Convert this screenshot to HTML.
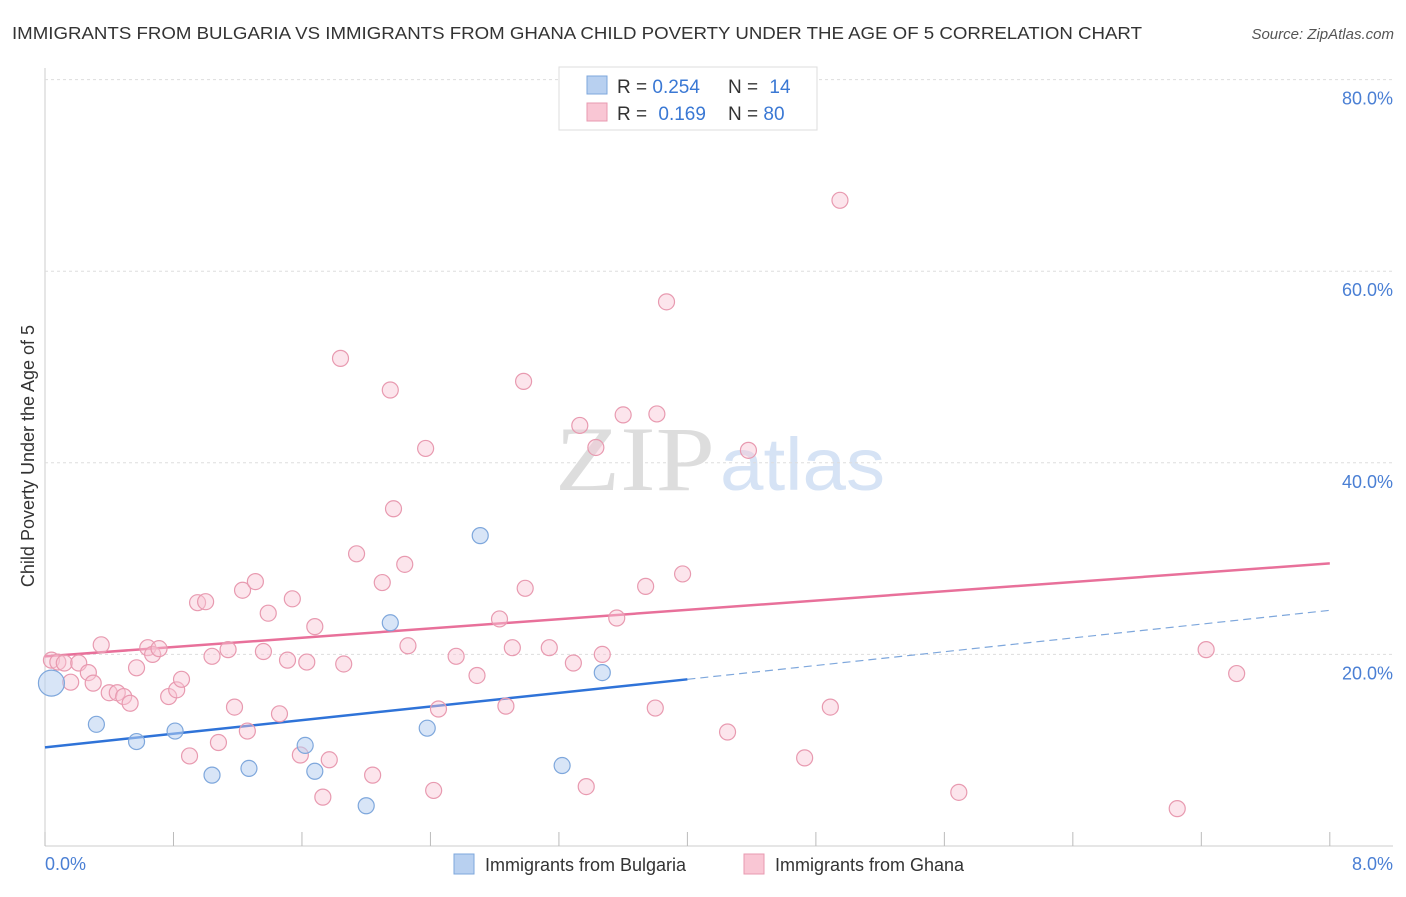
<!DOCTYPE html>
<html><head><meta charset="utf-8"><style>
body{margin:0;background:#fff;font-family:"Liberation Sans",sans-serif;}
</style></head><body>
<svg id="chart" width="1406" height="892" xmlns="http://www.w3.org/2000/svg">
<text x="12" y="39" font-size="17.5" fill="#333" textLength="1130" lengthAdjust="spacingAndGlyphs">IMMIGRANTS FROM BULGARIA VS IMMIGRANTS FROM GHANA CHILD POVERTY UNDER THE AGE OF 5 CORRELATION CHART</text>
<text x="1394" y="39" font-size="15" fill="#555" font-style="italic" text-anchor="end">Source: ZipAtlas.com</text>
<text x="555" y="490" font-size="92" fill="#ddd" font-family="Liberation Serif" textLength="160" lengthAdjust="spacingAndGlyphs">ZIP</text>
<text x="720" y="490" font-size="74" fill="#d6e3f5" textLength="165" lengthAdjust="spacingAndGlyphs">atlas</text>
<g id="grid"></g><g id="ticks"></g><g id="lines"></g><g id="pts"></g>
<text transform="translate(34,456) rotate(-90)" font-size="18" fill="#333" text-anchor="middle">Child Poverty Under the Age of 5</text>
<text x="45" y="870" font-size="18" fill="#4a7fd4">0.0%</text>
<text x="1393" y="870" font-size="18" fill="#4a7fd4" text-anchor="end">8.0%</text>
<g>
<rect x="559" y="67" width="258" height="63" fill="#fff" stroke="#ddd"/>
<rect x="587" y="76" width="20" height="18" fill="#b8d0f0" stroke="#7ea7dc"/>
<rect x="587" y="103" width="20" height="18" fill="#f9c6d4" stroke="#e89ab0"/>
<text x="617" y="93" font-size="19" fill="#333">R = <tspan fill="#3a78d4">0.254</tspan></text>
<text x="728" y="93" font-size="19" fill="#333">N = <tspan fill="#3a78d4" dx="6">14</tspan></text>
<text x="617" y="120" font-size="19" fill="#333">R = <tspan fill="#3a78d4" dx="6">0.169</tspan></text>
<text x="728" y="120" font-size="19" fill="#333">N = <tspan fill="#3a78d4">80</tspan></text>
</g>
<g><rect x="454" y="854" width="20" height="20" fill="#b8d0f0" stroke="#7ea7dc"/><text x="485" y="871" font-size="18" fill="#333">Immigrants from Bulgaria</text></g>
<g><rect x="744" y="854" width="20" height="20" fill="#f9c6d4" stroke="#e89ab0"/><text x="775" y="871" font-size="18" fill="#333">Immigrants from Ghana</text></g>
</svg>
<script>
const yTicks=[20,40,60,80];
const xTicks=[0,0.8,1.6,2.4,3.2,4.0,4.8,5.6,6.4,7.2,8.0];
const bulX=[0.04,0.32,0.57,0.81,1.04,1.27,1.62,1.68,2.00,2.15,2.38,2.71,3.22,3.47];
const bulY=[17.0,12.7,10.9,12.0,7.4,8.1,10.5,7.8,4.2,23.3,12.3,32.4,8.4,18.1];
const bulR=[13,8,8,8,8,8,8,8,8,8,8,8,8,8];
const ghaX=[0.04,0.08,0.12,0.16,0.21,0.27,0.30,0.35,0.40,0.45,0.49,0.53,0.57,0.64,0.67,0.71,0.77,0.82,0.85,0.90,0.95,1.00,1.04,1.08,1.14,1.18,1.23,1.26,1.31,1.36,1.39,1.46,1.51,1.54,1.59,1.63,1.68,1.77,1.73,1.84,1.86,1.94,2.04,2.10,2.15,2.17,2.24,2.26,2.37,2.42,2.45,2.56,2.69,2.83,2.87,2.91,2.98,2.99,3.14,3.29,3.33,3.37,3.43,3.47,3.56,3.60,3.74,3.80,3.81,3.87,3.97,4.25,4.38,4.73,4.89,4.95,5.69,7.05,7.23,7.42];
const ghaY=[19.4,19.2,19.1,17.1,19.1,18.1,17.0,21.0,16.0,16.0,15.6,14.9,18.6,20.7,20.0,20.6,15.6,16.3,17.4,9.4,25.4,25.5,19.8,10.8,20.5,14.5,26.7,12.0,27.6,20.3,24.3,13.8,19.4,25.8,9.5,19.2,22.9,9.0,5.1,50.9,19.0,30.5,7.4,27.5,47.6,35.2,29.4,20.9,41.5,5.8,14.3,19.8,17.8,23.7,14.6,20.7,48.5,26.9,20.7,19.1,43.9,6.2,41.6,20.0,23.8,45.0,27.1,14.4,45.1,56.8,28.4,11.9,41.3,9.2,14.5,67.4,5.6,3.9,20.5,18.0];
const ghaTrend=[19.8,29.5];
const bulTrend=[10.3,17.4,24.6];
const bulTrendX=[0,4,8];
const X=v=>45+v*160.6, Y=v=>846-v*9.58;
const NS="http://www.w3.org/2000/svg";
function mk(p,t,a){const e=document.createElementNS(NS,t);for(const k in a)e.setAttribute(k,a[k]);document.getElementById(p).appendChild(e);return e;}
mk('grid','line',{x1:45,y1:68,x2:45,y2:846,stroke:'#ccc'});
mk('grid','line',{x1:45,y1:846,x2:1393,y2:846,stroke:'#ccc'});
yTicks.forEach(t=>{
const g=mk('grid','line',{x1:45,y1:Y(t),x2:1393,y2:Y(t),stroke:'#ddd','stroke-dasharray':'3,3'});


const tx=mk('ticks','text',{x:1393,y:Y(t)+25,'font-size':18,fill:'#4a7fd4','text-anchor':'end'});
tx.textContent=t.toFixed(1)+'%';


});
xTicks.forEach(t=>{
const l=mk('ticks','line',{x1:X(t),y1:832,x2:X(t),y2:846,stroke:'#bbb'});


});
let l=mk('lines','line',{x1:X(0),y1:Y(ghaTrend[0]),x2:X(8),y2:Y(ghaTrend[1]),stroke:'#e8709a','stroke-width':2.5});


l=mk('lines','line',{x1:X(bulTrendX[0]),y1:Y(bulTrend[0]),x2:X(bulTrendX[1]),y2:Y(bulTrend[1]),stroke:'#2f73d8','stroke-width':2.5});


l=mk('lines','line',{x1:X(bulTrendX[1]),y1:Y(bulTrend[1]),x2:X(bulTrendX[2]),y2:Y(bulTrend[2]),stroke:'#7ea7dc','stroke-width':1.2,'stroke-dasharray':'8,5'});


ghaX.forEach((x,i)=>{
const c=mk('pts','circle',{cx:X(x),cy:Y(ghaY[i]),r:8,fill:'rgba(249,198,212,0.45)',stroke:'#e89ab0','stroke-width':1.2});


});
bulX.forEach((x,i)=>{
const c=mk('pts','circle',{cx:X(x),cy:Y(bulY[i]),r:bulR[i],fill:'rgba(184,208,240,0.55)',stroke:'#7ea7dc','stroke-width':1.2});


});
</script>
</body></html>
